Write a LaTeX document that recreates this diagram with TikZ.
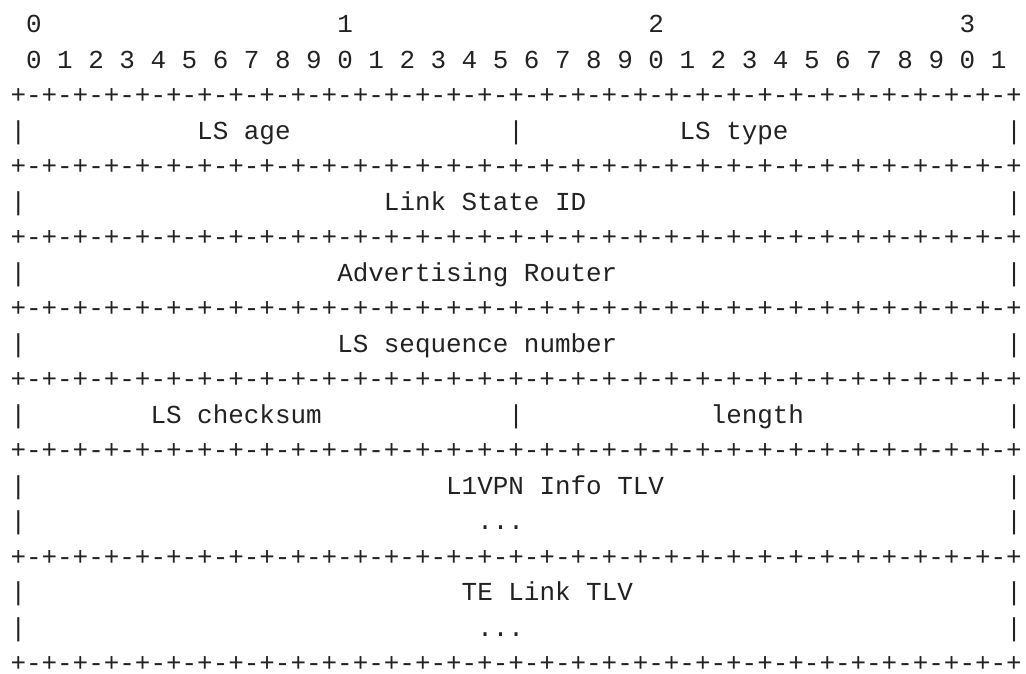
\documentclass[tikz,border=0pt]{standalone}
\usepackage{fontspec}
\newfontfamily\asciimono{Liberation Mono}
\definecolor{inkgray}{RGB}{34,34,34}
\tikzset{
  asc/.style={anchor=base west, inner sep=0pt, outer sep=0pt, text=inkgray,
    font=\asciimono\fontsize{25.93pt}{30pt}\selectfont}
}
% \placeat{name}{column}{line}{text}
\newcommand{\placeat}[4]{\node[asc] (#1) at ({(10.5+15.56*#2)*1pt},{-(32.8+35.5*#3)*1pt}) {#4};}
\newcommand{\plusrow}{+-+-+-+-+-+-+-+-+-+-+-+-+-+-+-+-+-+-+-+-+-+-+-+-+-+-+-+-+-+-+-+-+}
\begin{document}
\begin{tikzpicture}
\fill[white] (0pt,0pt) rectangle (1026pt,-673pt);
\useasboundingbox (0pt,0pt) rectangle (1026pt,-673pt);
% bit number header
\placeat{h0}{1}{0}{0}
\placeat{h1}{21}{0}{1}
\placeat{h2}{41}{0}{2}
\placeat{h3}{61}{0}{3}
\foreach \b in {0,...,31}{
  \pgfmathtruncatemacro{\digit}{mod(\b,10)}
  \pgfmathtruncatemacro{\col}{2*\b+1}
  \placeat{bit\b}{\col}{1}{\digit}
}
% separator rows
\placeat{s2}{0}{2}{\plusrow}
\placeat{s4}{0}{4}{\plusrow}
\placeat{s6}{0}{6}{\plusrow}
\placeat{s8}{0}{8}{\plusrow}
\placeat{s10}{0}{10}{\plusrow}
\placeat{s12}{0}{12}{\plusrow}
\placeat{s15}{0}{15}{\plusrow}
\placeat{s18}{0}{18}{\plusrow}
% row 3
\placeat{l3a}{0}{3}{|}
\placeat{lsage}{12}{3}{LS age}
\placeat{l3b}{32}{3}{|}
\placeat{lstype}{43}{3}{LS type}
\placeat{l3c}{64}{3}{|}
% row 5
\placeat{l5a}{0}{5}{|}
\placeat{lsid}{24}{5}{Link State ID}
\placeat{l5c}{64}{5}{|}
% row 7
\placeat{l7a}{0}{7}{|}
\placeat{advr}{21}{7}{Advertising Router}
\placeat{l7c}{64}{7}{|}
% row 9
\placeat{l9a}{0}{9}{|}
\placeat{lsseq}{21}{9}{LS sequence number}
\placeat{l9c}{64}{9}{|}
% row 11
\placeat{l11a}{0}{11}{|}
\placeat{lscks}{9}{11}{LS checksum}
\placeat{l11b}{32}{11}{|}
\placeat{lslen}{45}{11}{length}
\placeat{l11c}{64}{11}{|}
% rows 13-14
\placeat{l13a}{0}{13}{|}
\placeat{l1vpn}{28}{13}{L1VPN Info TLV}
\placeat{l13c}{64}{13}{|}
\placeat{l14a}{0}{14}{|}
\placeat{dots1}{30}{14}{...}
\placeat{l14c}{64}{14}{|}
% rows 16-17
\placeat{l16a}{0}{16}{|}
\placeat{telink}{29}{16}{TE Link TLV}
\placeat{l16c}{64}{16}{|}
\placeat{l17a}{0}{17}{|}
\placeat{dots2}{30}{17}{...}
\placeat{l17c}{64}{17}{|}
\end{tikzpicture}
\end{document}
